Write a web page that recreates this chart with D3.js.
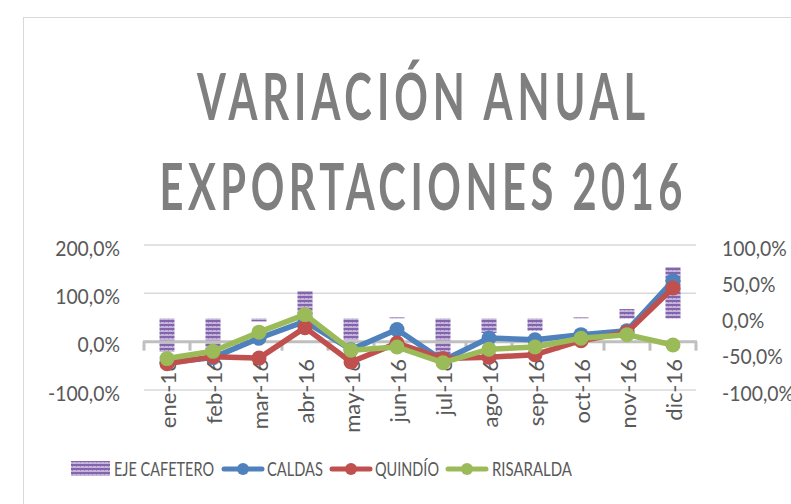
<!DOCTYPE html>
<html>
<head>
<meta charset="utf-8">
<script src="https://cdn.jsdelivr.net/npm/d3@7"></script>
<style>
  html, body { margin: 0; padding: 0; background: #fff; overflow: hidden; }
  svg { display: block; }
</style>
</head>
<body>
<svg id="chart" width="791" height="504"></svg>
<script>
// ---- Data ----
const categories = ["ene-16","feb-16","mar-16","abr-16","may-16","jun-16","jul-16","ago-16","sep-16","oct-16","nov-16","dic-16"];
const ejeCafetero = [-46, -46, -4, 38, -30, 1.5, -50, -20, -17, 1.5, 13, 71];
const caldas      = [-43.5, -33, 7, 42, -16.5, 25, -39, 7.7, 4, 14.5, 22.8, 126];
const quindio     = [-45.5, -31, -34, 29, -42, -3, -35, -32, -27, 2, 19.7, 111];
const risaralda   = [-35, -20, 19.7, 56, -17.6, -11, -43.5, -15.5, -11, 7, 14.5, -7];
const leftTicks  = [-100, 0, 100, 200];
const rightTicks = [-100, -50, 0, 50, 100];
const titleLines = ["VARIACIÓN ANUAL", "EXPORTACIONES 2016"];
const legendNames = ["EJE CAFETERO", "CALDAS", "QUINDÍO", "RISARALDA"];

const lineSeries = [
  { name: "CALDAS", values: caldas, color: "#4f81bd" },
  { name: "QUINDÍO", values: quindio, color: "#c0504d" },
  { name: "RISARALDA", values: risaralda, color: "#9bbb59" }
];

const fmt = v => v.toFixed(1).replace(".", ",") + "%";

const svg = d3.select("#chart");
const FONT = "Lato, 'Open Sans', sans-serif";

// pattern for bars
const defs = svg.append("defs");
const pat = defs.append("pattern").attr("id", "stripes")
  .attr("patternUnits", "userSpaceOnUse").attr("width", 4).attr("height", 4);
pat.append("rect").attr("width", 4).attr("height", 4).attr("fill", "#c4b5da");
pat.append("rect").attr("width", 4).attr("height", 2).attr("fill", "#8464ac");
pat.append("rect").attr("x", 0).attr("y", 2).attr("width", 1).attr("height", 1).attr("fill", "#a48cc6");

// chart border
svg.append("rect").attr("x", 23.5).attr("y", 17.5).attr("width", 900).attr("height", 700)
  .attr("fill", "#fff").attr("stroke", "#d9d9d9").attr("stroke-width", 1);

// compress helper: horizontally squeeze a text to a fraction of its natural width
function squeeze(sel, factor) {
  sel.each(function () {
    const len = this.getComputedTextLength();
    d3.select(this).attr("textLength", len * factor).attr("lengthAdjust", "spacingAndGlyphs");
  });
}

// title (narrow glyphs, wide letter spacing)
const titleBase = [120, 210];
const titleLen = [448, 523];
const sx = 0.64;
svg.append("g").selectAll("g").data(titleLines).join("g")
  .attr("transform", (d, i) => `translate(421,${titleBase[i]}) scale(${sx},1)`)
  .append("text")
  .attr("x", 0).attr("y", 0)
  .attr("text-anchor", "middle")
  .attr("textLength", (d, i) => titleLen[i] / sx)
  .attr("lengthAdjust", "spacing")
  .attr("font-family", FONT).attr("font-weight", "bold").attr("font-size", 65)
  .attr("fill", "#7f7f7f")
  .text(d => d);

// scales
const x = d3.scaleBand().domain(categories).range([144, 696]).padding(0);
const yL = d3.scaleLinear().domain([-100, 200]).range([390, 245]);
const yR = d3.scaleLinear().domain([-100, 100]).range([391, 246]);

// gridlines (left axis)
svg.append("g").selectAll("line").data(leftTicks.filter(t => t !== 0)).join("line")
  .attr("x1", 144).attr("x2", 696)
  .attr("y1", d => yL(d)).attr("y2", d => yL(d))
  .attr("stroke", "#d9d9d9").attr("stroke-width", 1.5);

// left axis labels
svg.append("g").selectAll("text").data(leftTicks).join("text")
  .attr("x", 120).attr("y", d => yL(d) + 2)
  .attr("text-anchor", "end").attr("dominant-baseline", "central")
  .attr("font-family", FONT).attr("font-size", 22).attr("fill", "#595959")
  .text(fmt)
  .call(squeeze, 0.88);

// right axis labels
svg.append("g").selectAll("text").data(rightTicks).join("text")
  .attr("x", 722).attr("y", d => yR(d) + 1)
  .attr("text-anchor", "start").attr("dominant-baseline", "central")
  .attr("font-family", FONT).attr("font-size", 22).attr("fill", "#595959")
  .text(fmt)
  .call(squeeze, 0.88);

// bars (secondary axis)
const barW = 15;
svg.append("g").selectAll("rect").data(ejeCafetero).join("rect")
  .attr("x", (d, i) => x(categories[i]) + x.bandwidth() / 2 - barW / 2)
  .attr("width", barW)
  .attr("y", d => Math.min(yR(d), yR(0)))
  .attr("height", d => Math.abs(yR(d) - yR(0)))
  .attr("fill", "url(#stripes)");

// category axis line at 0 (primary)
const axisG = svg.append("g");
axisG.append("line").attr("x1", 143).attr("x2", 697)
  .attr("y1", yL(0)).attr("y2", yL(0))
  .attr("stroke", "#bfbfbf").attr("stroke-width", 3);
const tickXs = categories.map(c => x(c)).concat([x.range()[1]]);
axisG.selectAll("line.tk").data(tickXs).join("line").attr("class", "tk")
  .attr("x1", d => d).attr("x2", d => d)
  .attr("y1", yL(0)).attr("y2", yL(0) + 9)
  .attr("stroke", "#bfbfbf").attr("stroke-width", 3);

// category labels
svg.append("g").selectAll("text").data(categories).join("text")
  .attr("transform", d => `translate(${x(d) + x.bandwidth() / 2},359) rotate(-90)`)
  .attr("text-anchor", "end").attr("dominant-baseline", "central")
  .attr("font-family", FONT).attr("font-size", 22).attr("fill", "#595959")
  .text(d => d);

// lines
const line = d3.line().x((d, i) => x(categories[i]) + x.bandwidth() / 2).y(d => yL(d));
lineSeries.forEach(s => {
  const g = svg.append("g");
  g.append("path").attr("d", line(s.values))
    .attr("fill", "none").attr("stroke", s.color).attr("stroke-width", 5.5)
    .attr("stroke-linejoin", "round").attr("stroke-linecap", "round");
  g.selectAll("circle").data(s.values).join("circle")
    .attr("cx", (d, i) => x(categories[i]) + x.bandwidth() / 2)
    .attr("cy", d => yL(d)).attr("r", 7.5).attr("fill", s.color);
});

// legend
const lg = svg.append("g");
const legY = 469;
lg.append("rect").attr("x", 71).attr("y", 461).attr("width", 39).attr("height", 15)
  .attr("fill", "url(#stripes)");
const legendItems = [
  { sx: null, tx: 114, tl: 100 },
  { sx: 222, tx: 267, tl: 56, color: "#4f81bd" },
  { sx: 330, tx: 375, tl: 64, color: "#c0504d" },
  { sx: 446, tx: 492, tl: 80, color: "#9bbb59" }
];
legendItems.forEach((it, i) => {
  if (it.sx !== null) {
    lg.append("line").attr("x1", it.sx + 2).attr("x2", it.sx + 40).attr("y1", legY).attr("y2", legY)
      .attr("stroke", it.color).attr("stroke-width", 5).attr("stroke-linecap", "round");
    lg.append("circle").attr("cx", it.sx + 21).attr("cy", legY).attr("r", 6).attr("fill", it.color);
  }
  lg.append("text").attr("x", it.tx).attr("y", 476)
    .attr("textLength", it.tl).attr("lengthAdjust", "spacingAndGlyphs")
    .attr("font-family", FONT).attr("font-size", 18.5).attr("fill", "#595959")
    .text(legendNames[i]);
});
</script>
</body>
</html>
